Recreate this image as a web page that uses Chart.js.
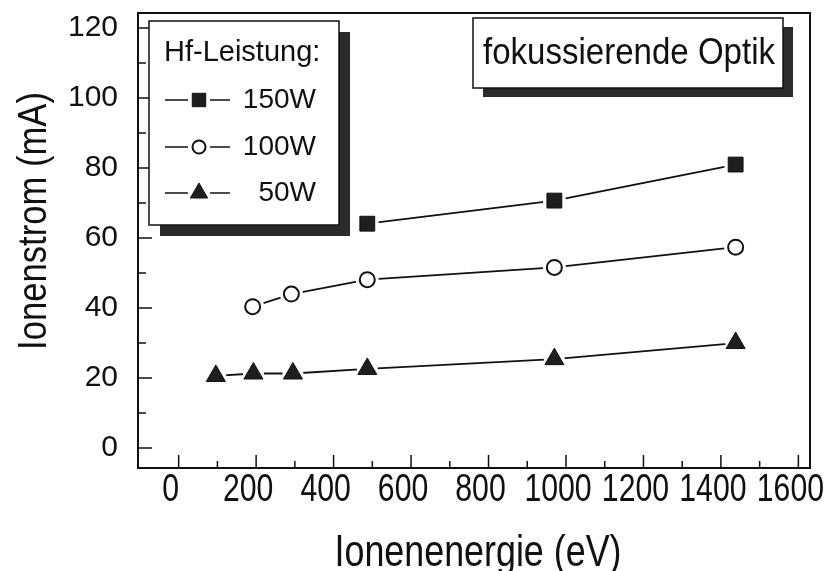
<!DOCTYPE html>
<html>
<head>
<meta charset="utf-8">
<script src="https://cdn.jsdelivr.net/npm/chart.js@4.4.1/dist/chart.umd.min.js"></script>
<style>
  html, body { margin: 0; padding: 0; background: #fff; }
  #wrap { width: 829px; height: 571px; }
</style>
</head>
<body>
<div id="wrap"><canvas id="ionChart" width="829" height="571"></canvas></div>
<script>
// Ionenstrom vs. Ionenenergie, drei HF-Leistungen
const energy150 = [487, 970, 1438];
const current150 = [64.1, 70.7, 81.0];

const energy100 = [191, 291, 487, 970, 1438];
const current100 = [40.4, 44.0, 48.1, 51.6, 57.4];

const energy50 = [96, 193, 295, 487, 970, 1438];
const current50 = [20.6, 21.3, 21.3, 22.6, 25.4, 30.0];

const seriesLabels = ["150W", "100W", "50W"];
const legendTitle = "Hf-Leistung:";
const noteText = "fokussierende Optik";
const xTitle = "Ionenenergie (eV)";
const yTitle = "Ionenstrom (mA)";

const xMajor = [0, 200, 400, 600, 800, 1000, 1200, 1400, 1600];
const xMinor = [100, 300, 500, 700, 900, 1100, 1300, 1500];
const yMajor = [0, 20, 40, 60, 80, 100, 120];
const yMinor = [10, 30, 50, 70, 90, 110];

const FONT = "'Liberation Sans', Arial, sans-serif";
const INK = "#111";
const FILL = "#1e1e1e";
const SHADOW = "#2b2b2b";

const markers = [
    { style: "rect", radius: 10.5, fill: FILL, border: 1, halo: 11.5 },
    { style: "circle", radius: 7.5, fill: "#fff", border: 2, halo: 11.5 },
    { style: "triangle", radius: 11, fill: FILL, border: 1, halo: 10.5 }
];

function pts(xs, ys) {
    return xs.map((x, i) => ({ x: x, y: ys[i] }));
}

// line underneath, white halo to open a gap, marker on top
function seriesSets(label, xs, ys, m) {
    const data = pts(xs, ys);
    return [
        { label: label, data: data, showLine: true, borderColor: INK, borderWidth: 1.8, pointRadius: 0, order: 3 },
        { label: label, data: data, showLine: false, pointStyle: "circle", pointRadius: m.halo,
          pointBackgroundColor: "#fff", pointBorderWidth: 0, order: 2 },
        { label: label, data: data, showLine: false, pointStyle: m.style, pointRadius: m.radius,
          pointBackgroundColor: m.fill, pointBorderColor: INK, pointBorderWidth: m.border, order: 1 }
    ];
}

// text squeezed horizontally to a given width (the lettering is condensed)
function squeezed(ctx, text, x, y, size, width, align, rot) {
    ctx.save();
    ctx.font = size + "px " + FONT;
    const sx = width / ctx.measureText(text).width;
    ctx.translate(x, y);
    if (rot) ctx.rotate(rot);
    ctx.scale(sx, 1);
    ctx.textAlign = align;
    ctx.textBaseline = "alphabetic";
    ctx.fillStyle = INK;
    ctx.fillText(text, 0, 0);
    ctx.restore();
}

// frame, inward ticks, tick labels and axis titles
const axesDeco = {
    id: "axesDeco",
    afterDatasetsDraw(chart) {
        const { ctx, chartArea: a, scales: { x, y } } = chart;
        ctx.save();
        ctx.strokeStyle = INK;
        ctx.lineWidth = 2;
        ctx.strokeRect(a.left, a.top, a.right - a.left, a.bottom - a.top);
        ctx.lineWidth = 1.5;
        ctx.beginPath();
        xMajor.forEach(v => { const px = x.getPixelForValue(v); ctx.moveTo(px, a.bottom); ctx.lineTo(px, a.bottom - 13); });
        xMinor.forEach(v => { const px = x.getPixelForValue(v); ctx.moveTo(px, a.bottom); ctx.lineTo(px, a.bottom - 7); });
        yMajor.forEach(v => { const py = y.getPixelForValue(v); ctx.moveTo(a.left, py); ctx.lineTo(a.left + 14, py); });
        yMinor.forEach(v => { const py = y.getPixelForValue(v); ctx.moveTo(a.left, py); ctx.lineTo(a.left + 8, py); });
        ctx.stroke();

        ctx.fillStyle = INK;
        ctx.font = "30px " + FONT;
        ctx.textAlign = "right";
        ctx.textBaseline = "alphabetic";
        y.ticks.forEach(t => {
            ctx.fillText(String(t.value), a.left - 20, y.getPixelForValue(t.value) + 8);
        });
        ctx.restore();

        x.ticks.forEach(t => {
            const s = String(t.value);
            squeezed(ctx, s, x.getPixelForValue(t.value) - 8, a.bottom + 33, 38, 16.8 * s.length, "center");
        });

        squeezed(ctx, xTitle, 478, 566, 44, 287, "center");
        squeezed(ctx, yTitle, 46, 221, 40, 258, "center", -Math.PI / 2);
    }
};

function shadowBox(ctx, l, t, r, b, dx, dy) {
    ctx.fillStyle = SHADOW;
    ctx.fillRect(l + dx, t + dy, r - l, b - t);
    ctx.fillStyle = "#fff";
    ctx.fillRect(l, t, r - l, b - t);
    ctx.strokeStyle = INK;
    ctx.lineWidth = 1.5;
    ctx.strokeRect(l, t, r - l, b - t);
}

// legend box and note box, both with drop shadows
const boxes = {
    id: "boxes",
    afterDatasetsDraw(chart) {
        const ctx = chart.ctx;
        ctx.save();

        shadowBox(ctx, 149, 21, 339, 225, 11, 11);
        ctx.fillStyle = INK;
        ctx.textBaseline = "middle";
        ctx.textAlign = "left";
        ctx.font = "29px " + FONT;
        ctx.fillText(legendTitle, 164, 53);

        const rowY = [100, 147, 193];
        markers.forEach((m, i) => {
            const yy = rowY[i];
            ctx.strokeStyle = INK;
            ctx.lineWidth = 1.5;
            ctx.beginPath();
            ctx.moveTo(165, yy); ctx.lineTo(230, yy);
            ctx.stroke();
            ctx.fillStyle = "#fff";
            ctx.fillRect(188, yy - 10, 22, 20);
            ctx.fillStyle = m.fill;
            ctx.strokeStyle = INK;
            ctx.lineWidth = m.border;
            Chart.helpers.drawPoint(ctx, { pointStyle: m.style, radius: m.radius - 1, borderWidth: m.border, rotation: 0 }, 199, yy);
            ctx.fillStyle = INK;
            ctx.textAlign = "right";
            ctx.font = "28px " + FONT;
            ctx.fillText(seriesLabels[i], 316, yy);
            ctx.textAlign = "left";
        });

        shadowBox(ctx, 473, 18, 783, 88, 10, 9);
        ctx.restore();
        squeezed(ctx, noteText, 483, 64, 37, 292, "left");
    }
};

new Chart(document.getElementById("ionChart"), {
    type: "scatter",
    data: {
        datasets: [].concat(
            seriesSets(seriesLabels[0], energy150, current150, markers[0]),
            seriesSets(seriesLabels[1], energy100, current100, markers[1]),
            seriesSets(seriesLabels[2], energy50, current50, markers[2])
        )
    },
    options: {
        responsive: false,
        animation: false,
        layout: { padding: { top: 13, right: 19, left: 0, bottom: 0 } },
        plugins: {
            legend: { display: false },
            tooltip: { enabled: false }
        },
        scales: {
            x: {
                type: "linear",
                min: -105,
                max: 1630,
                afterBuildTicks: s => { s.ticks = xMajor.map(v => ({ value: v })); },
                afterFit: s => { s.height = 103; },
                grid: { display: false, drawTicks: false },
                border: { display: false },
                ticks: { display: false }
            },
            y: {
                type: "linear",
                min: -5.7,
                max: 124.3,
                afterBuildTicks: s => { s.ticks = yMajor.map(v => ({ value: v })); },
                afterFit: s => { s.width = 138; },
                grid: { display: false, drawTicks: false },
                border: { display: false },
                ticks: { display: false }
            }
        }
    },
    plugins: [axesDeco, boxes]
});
</script>
</body>
</html>
